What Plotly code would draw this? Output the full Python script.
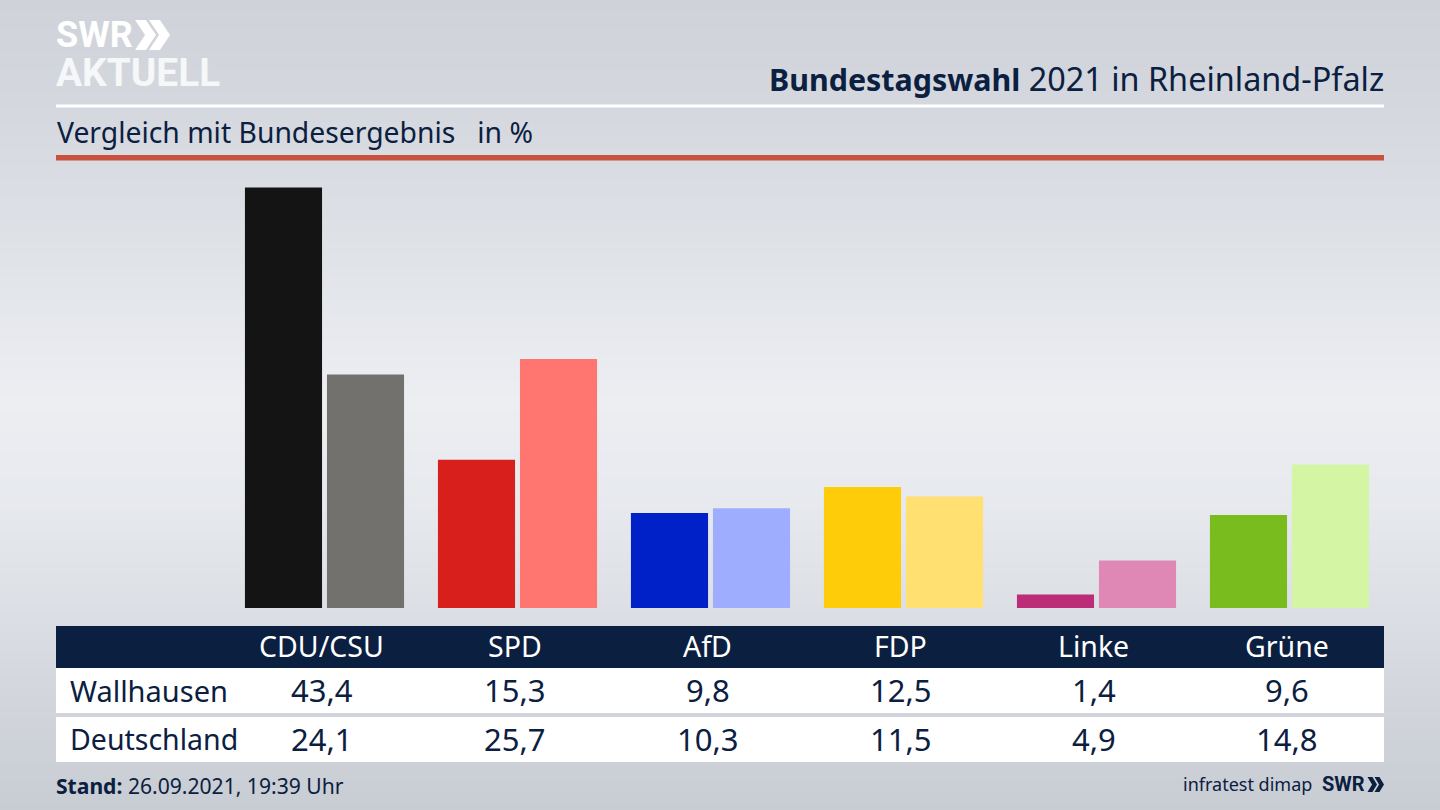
import plotly.graph_objects as go

parties = ["CDU/CSU", "SPD", "AfD", "FDP", "Linke", "Grüne"]
wallhausen = [43.4, 15.3, 9.8, 12.5, 1.4, 9.6]
deutschland = [24.1, 25.7, 10.3, 11.5, 4.9, 14.8]
colors_wallhausen = ["#141414", "#d81f1c", "#0020c8", "#ffcc0a", "#bd2c76", "#79bc1e"]
colors_deutschland = ["#73716e", "#ff7570", "#9fadff", "#ffe070", "#df88b6", "#d3f5a4"]
row_names = ["Wallhausen", "Deutschland"]
bg_stops = [0, 100, 200, 300, 400, 500, 600, 700, 810]
bg_values = [207, 212, 219, 228, 236, 231, 221, 210, 200]

W, H = 1440, 810
NAVY = "#0b2040"
FONT = "Noto Sans"
UNIT = 193
BASE = 608
PX_PER_PCT = 9.69
X0 = 324.5


def px(x):
    return x / W


def py(y):
    return 1 - y / H


fig = go.Figure()

v_min, v_max = min(bg_values), max(bg_values)
fig.add_trace(go.Heatmap(
    x=[0, W], y=bg_stops, z=[[v, v] for v in bg_values],
    zmin=v_min, zmax=v_max, zsmooth="best", showscale=False, hoverinfo="skip",
    colorscale=[[0, f"rgb({v_min},{v_min+4},{v_min+11})"], [1, f"rgb({v_max},{v_max+2},{v_max+6})"]],
    xaxis="x", yaxis="y",
))

fig.add_trace(go.Bar(name=row_names[0], x=list(range(6)), y=wallhausen,
                     marker=dict(color=colors_wallhausen, line_width=0), xaxis="x2", yaxis="y2"))
fig.add_trace(go.Bar(name=row_names[1], x=list(range(6)), y=deutschland,
                     marker=dict(color=colors_deutschland, line_width=0), xaxis="x2", yaxis="y2"))


def rect(x0, y0, x1, y1, color):
    return dict(type="rect", xref="paper", yref="paper", x0=px(x0), x1=px(x1), y0=py(y0), y1=py(y1),
                fillcolor=color, line_width=0, layer="above")


def chevron(x, y0, y1, w, color):
    ym = (y0 + y1) / 2
    t = w * 0.52
    pts = [(x, y0), (x + t, y0), (x + w, ym), (x + t, y1), (x, y1), (x + w - t, ym)]
    path = "M" + " L".join(f"{px(a):.5f},{py(b):.5f}" for a, b in pts) + " Z"
    return dict(type="path", xref="paper", yref="paper", path=path, fillcolor=color, line_width=0, layer="above")


shapes = [
    rect(56, 104.5, 1384, 107.5, "#ffffff"),
    rect(56, 155, 1384, 160.5, "#c8523f"),
    rect(56, 626, 1384, 668, NAVY),
    rect(56, 668, 1384, 713, "#ffffff"),
    rect(56, 717, 1384, 762, "#ffffff"),
    chevron(135, 20, 50, 21, "#ffffff"),
    chevron(149, 20, 50, 21, "#ffffff"),
    chevron(1367.5, 777, 792, 9.5, NAVY),
    chevron(1374.5, 777, 792, 9.5, NAVY),
]


def label(text, x, y, size, color=NAVY, anchor="left", family=FONT, xref="paper", xshift=0):
    return dict(text=text, x=px(x) if xref == "paper" else x, y=py(y), xref=xref, yref="paper",
                xanchor=anchor, yanchor="middle", showarrow=False, xshift=xshift,
                font=dict(family=family, size=size, color=color))


annotations = [
    label("<b>SWR</b>", 54, 35, 36, "#ffffff", family="Roboto"),
    label("<b>AKTUELL</b>", 54, 72, 38.8, "#f6f7f8", family="Roboto"),
    label('<span style="font-size:30.4px"><b>Bundestagswahl</b></span> 2021 in Rheinland-Pfalz',
          1386, 78, 32.4, anchor="right"),
    label("Vergleich mit Bundesergebnis&#160;&#160; in %", 55, 132, 28.3),
    label(row_names[0], 68, 690, 29),
    label(row_names[1], 68, 739, 28.5),
    label("<b>Stand:</b> 26.09.2021, 19:39 Uhr", 54, 785, 21.1),
    label("infratest dimap", 1314, 784, 18, anchor="right"),
    label("<b>SWR</b>", 1367, 784, 20, anchor="right", family="Roboto"),
]
for i, name in enumerate(parties):
    annotations.append(label(name, i, 646, 28.5, "#ffffff", "center", xref="x2", xshift=-3))
    annotations.append(label(f"{wallhausen[i]:.1f}".replace(".", ","), i, 690, 31, NAVY, "center", xref="x2", xshift=-3))
    annotations.append(label(f"{deutschland[i]:.1f}".replace(".", ","), i, 739, 31, NAVY, "center", xref="x2", xshift=-3))

hidden = dict(visible=False, fixedrange=True)
fig.update_layout(
    width=W, height=H, margin=dict(l=0, r=0, t=0, b=0), showlegend=False,
    paper_bgcolor="#dfe1e6", plot_bgcolor="rgba(0,0,0,0)",
    barmode="group", bargap=0.15, bargroupgap=0.06,
    shapes=shapes, annotations=annotations,
    xaxis=dict(range=[0, W], **hidden),
    yaxis=dict(range=[H, 0], **hidden),
    xaxis2=dict(range=[-X0 / UNIT, (W - X0) / UNIT], overlaying="x", **hidden),
    yaxis2=dict(range=[-(H - BASE) / PX_PER_PCT, BASE / PX_PER_PCT], overlaying="y", **hidden),
)
fig.write_html("out.html", config=dict(displayModeBar=False),
               post_script="document.body.style.margin='0';document.body.style.overflow='hidden';")
